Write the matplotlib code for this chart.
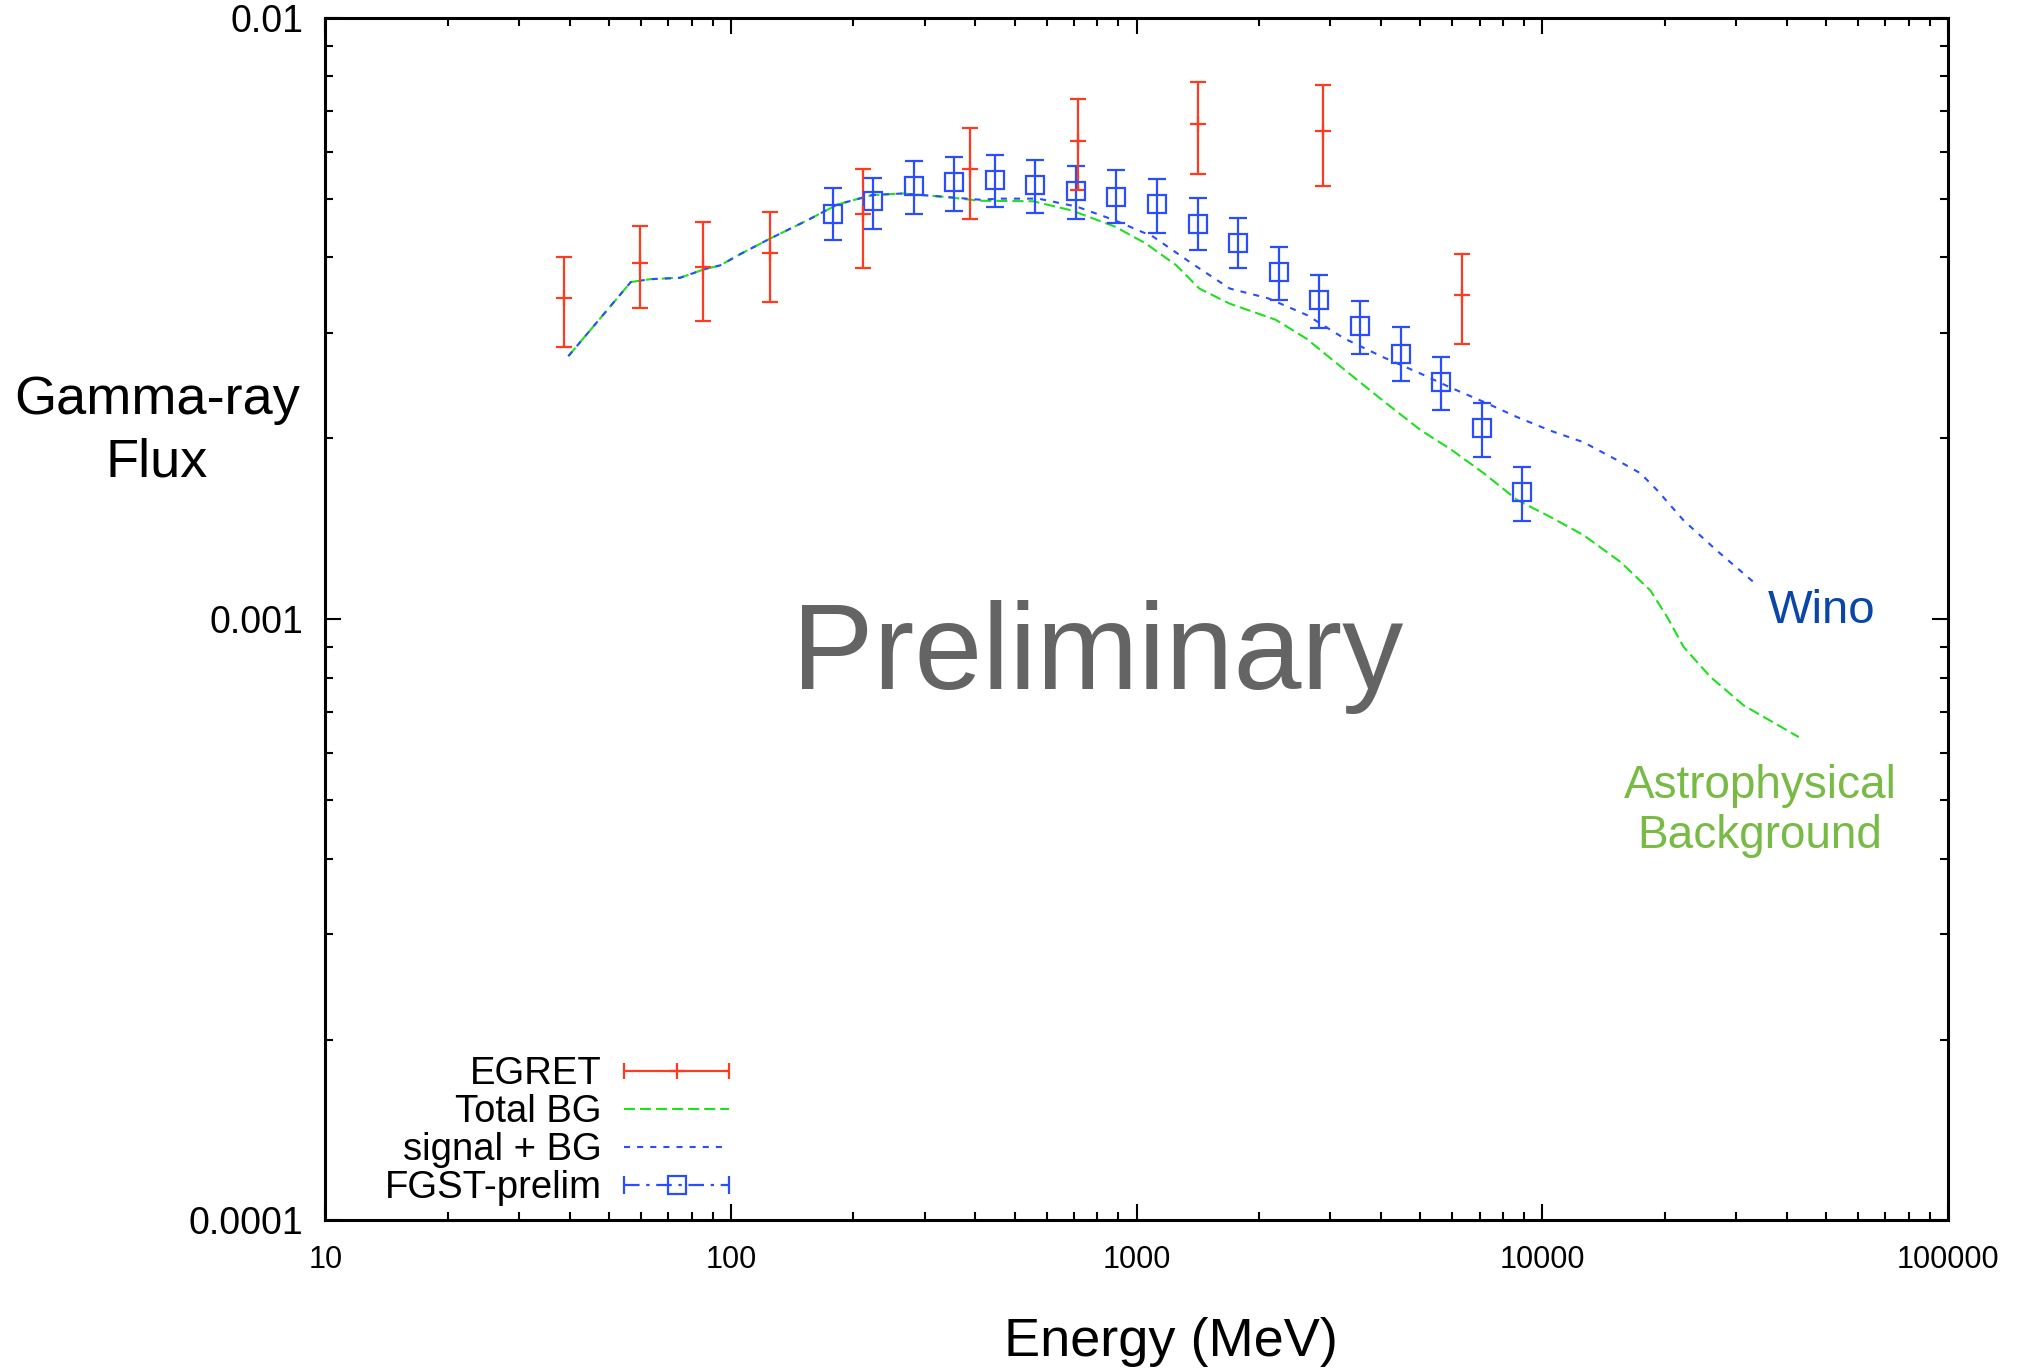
"""
plot.py
Gamma-ray flux vs energy: EGRET, FGST preliminary data and background / Wino curves
"""

import numpy as np
import matplotlib
matplotlib.use("Agg")
import matplotlib.pyplot as plt
from matplotlib.legend_handler import HandlerErrorbar
from matplotlib.container import ErrorbarContainer
from matplotlib.ticker import NullFormatter

# EGRET points (MeV, flux, upper and lower end of the error bar)
egret_energy = [38.8, 59.6, 85.1, 124.5, 212, 389, 716, 1417, 2876, 6318]
egret_flux = [3.42e-3, 3.91e-3, 3.86e-3, 4.07e-3, 4.72e-3, 5.61e-3, 6.25e-3, 6.68e-3, 6.50e-3, 3.47e-3]
egret_high = [4.01e-3, 4.52e-3, 4.58e-3, 4.76e-3, 5.61e-3, 6.57e-3, 7.33e-3, 7.83e-3, 7.73e-3, 4.06e-3]
egret_low = [2.84e-3, 3.30e-3, 3.14e-3, 3.37e-3, 3.84e-3, 4.64e-3, 5.17e-3, 5.51e-3, 5.26e-3, 2.87e-3]

# FGST preliminary points
fgst_energy = [178, 224, 282, 355, 447, 562, 708, 891, 1122, 1413, 1778, 2239,
               2818, 3548, 4467, 5623, 7079, 8913]
fgst_flux = [4.73e-3, 4.96e-3, 5.26e-3, 5.34e-3, 5.38e-3, 5.28e-3, 5.16e-3, 5.05e-3,
             4.91e-3, 4.55e-3, 4.23e-3, 3.78e-3, 3.40e-3, 3.08e-3, 2.76e-3, 2.48e-3,
             2.08e-3, 1.63e-3]
fgst_high = [5.22e-3, 5.43e-3, 5.78e-3, 5.87e-3, 5.92e-3, 5.81e-3, 5.68e-3, 5.60e-3,
             5.41e-3, 5.03e-3, 4.66e-3, 4.16e-3, 3.74e-3, 3.38e-3, 3.06e-3, 2.73e-3,
             2.29e-3, 1.79e-3]
fgst_low = [4.27e-3, 4.46e-3, 4.73e-3, 4.78e-3, 4.85e-3, 4.74e-3, 4.63e-3, 4.56e-3,
            4.40e-3, 4.11e-3, 3.84e-3, 3.40e-3, 3.05e-3, 2.76e-3, 2.49e-3, 2.23e-3,
            1.86e-3, 1.46e-3]

# Total background curve
bg_energy = [39.7, 56.6, 63.2, 74.9, 85.6, 94.0, 105.3, 124, 154, 183,
             223, 265, 330, 410, 555, 690, 884, 1052, 1252, 1426,
             1696, 2201, 2620, 3255, 4046, 5028, 5929, 7165, 8657, 10460,
             12637, 15564, 18450, 20290, 22290, 25940, 31340, 42820]
bg_flux = [2.74e-3, 3.64e-3, 3.68e-3, 3.70e-3, 3.82e-3, 3.88e-3, 4.05e-3, 4.29e-3, 4.61e-3, 4.90e-3,
           5.08e-3, 5.11e-3, 5.05e-3, 4.97e-3, 4.96e-3, 4.79e-3, 4.50e-3, 4.22e-3, 3.88e-3, 3.55e-3,
           3.35e-3, 3.15e-3, 2.93e-3, 2.60e-3, 2.31e-3, 2.06e-3, 1.92e-3, 1.75e-3, 1.58e-3, 1.48e-3,
           1.38e-3, 1.246e-3, 1.117e-3, 1.009e-3, 8.99e-4, 8.02e-4, 7.19e-4, 6.37e-4]

# signal (Wino) + background curve
sig_energy = [39.7, 56.6, 63.2, 74.9, 85.6, 94.0, 105.3, 124, 154, 183,
              223, 265, 330, 410, 461, 572, 711, 884, 1098, 1366,
              1696, 2108, 2620, 3255, 4046, 5028, 5929, 7165, 8657, 10460,
              12637, 15270, 17430, 19170, 22290, 26940, 33810]
sig_flux = [2.74e-3, 3.64e-3, 3.68e-3, 3.70e-3, 3.82e-3, 3.88e-3, 4.05e-3, 4.29e-3, 4.61e-3, 4.90e-3,
            5.08e-3, 5.11e-3, 5.05e-3, 4.99e-3, 5.01e-3, 5.01e-3, 4.86e-3, 4.61e-3, 4.33e-3, 3.91e-3,
            3.55e-3, 3.42e-3, 3.21e-3, 2.93e-3, 2.73e-3, 2.56e-3, 2.43e-3, 2.30e-3, 2.17e-3, 2.06e-3,
            1.97e-3, 1.84e-3, 1.75e-3, 1.64e-3, 1.46e-3, 1.30e-3, 1.14e-3]

x_ticks = [10, 100, 1000, 10000, 100000]
x_tick_labels = ["10", "100", "1000", "10000", "100000"]
y_ticks = [1e-4, 1e-3, 1e-2]
y_tick_labels = ["0.0001", "0.001", "0.01"]
legend_labels = ["EGRET", "Total BG", "signal + BG", "FGST-prelim"]

RED = "#ff3a1e"
GREEN = "#1fe01f"
BLUE = "#2a4dff"

plt.rcParams["font.family"] = ["Liberation Sans", "DejaVu Sans"]

fig = plt.figure(figsize=(20.4, 13.69), dpi=100)
ax = fig.add_axes([0.1595, 0.1085, 0.7955, 0.8782])
ax.set_xscale("log")
ax.set_yscale("log")
ax.set_xlim(10, 100000)
ax.set_ylim(1e-4, 1e-2)

# curves
bg_line, = ax.plot(bg_energy, bg_flux, color=GREEN, lw=1.5, dashes=(5.3, 2.4))
sig_line, = ax.plot(sig_energy, sig_flux, color=BLUE, lw=1.5, dashes=(2.9, 3.4))

# data points
fgst = np.array(fgst_flux)
ax.errorbar(fgst_energy, fgst_flux,
            yerr=[fgst - np.array(fgst_low), np.array(fgst_high) - fgst],
            fmt="s", ms=13, mfc="none", mec=BLUE, mew=1.6, color=BLUE,
            elinewidth=1.6, capsize=6.5, capthick=1.6)
egret = np.array(egret_flux)
ax.errorbar(egret_energy, egret_flux,
            yerr=[egret - np.array(egret_low), np.array(egret_high) - egret],
            fmt="+", ms=12, mew=1.6, color=RED,
            elinewidth=1.6, capsize=6, capthick=1.6)

# legend keys drawn gnuplot style (horizontal bar with caps)
egret_key = ax.errorbar([np.nan], [np.nan], xerr=[np.nan], fmt="+", ms=12, mew=1.6,
                        color=RED, elinewidth=1.6, capsize=6, capthick=1.6)
fgst_key = ax.errorbar([np.nan], [np.nan], xerr=[np.nan], fmt="s", ms=13, mfc="none",
                       mec=BLUE, mew=1.6, color=BLUE, elinewidth=1.6, capsize=6.5,
                       capthick=1.6)
fgst_key[2][0].set_linestyle((0, (7, 3, 1.5, 3)))

ax.legend([egret_key, bg_line, sig_line, fgst_key], legend_labels,
          loc="lower right", bbox_to_anchor=(0.249, 0.012),
          frameon=False, markerfirst=False, fontsize=27.5,
          handlelength=2.75, handletextpad=0.6, labelspacing=0.05,
          borderpad=0, borderaxespad=0,
          handler_map={ErrorbarContainer: HandlerErrorbar(xerr_size=1.375)})

# axes, ticks
ax.set_xticks(x_ticks, labels=x_tick_labels)
ax.set_yticks(y_ticks, labels=y_tick_labels)
ax.xaxis.set_minor_formatter(NullFormatter())
ax.yaxis.set_minor_formatter(NullFormatter())
ax.tick_params(which="both", direction="in", top=True, right=True, width=1.5)
ax.tick_params(which="major", length=11.5)
ax.tick_params(which="minor", length=5.8)
ax.tick_params(axis="x", labelsize=22, pad=18)
ax.tick_params(axis="y", labelsize=27, pad=16)
for spine in ax.spines.values():
    spine.set_linewidth(2.2)

# annotations
ax.text(0.4756, 0.4417, "Preliminary", transform=ax.transAxes, ha="center",
        va="baseline", fontsize=88, color="#646464", fontweight="light")
ax.text(0.889, 0.4967, "Wino", transform=ax.transAxes, ha="left",
        va="baseline", fontsize=34, color="#0a46a8")
ax.text(0.8841, 0.3101, "Astrophysical\nBackground", transform=ax.transAxes,
        ha="center", va="baseline", fontsize=33, color="#78bb44",
        linespacing=1.17)

fig.text(0.077, 0.6523, "Gamma-ray\nFlux", ha="center", va="baseline",
         fontsize=39, linespacing=1.31)
fig.text(0.574, 0.0095, "Energy (MeV)", ha="center", va="baseline", fontsize=39)

fig.savefig("out.png", dpi=100)
